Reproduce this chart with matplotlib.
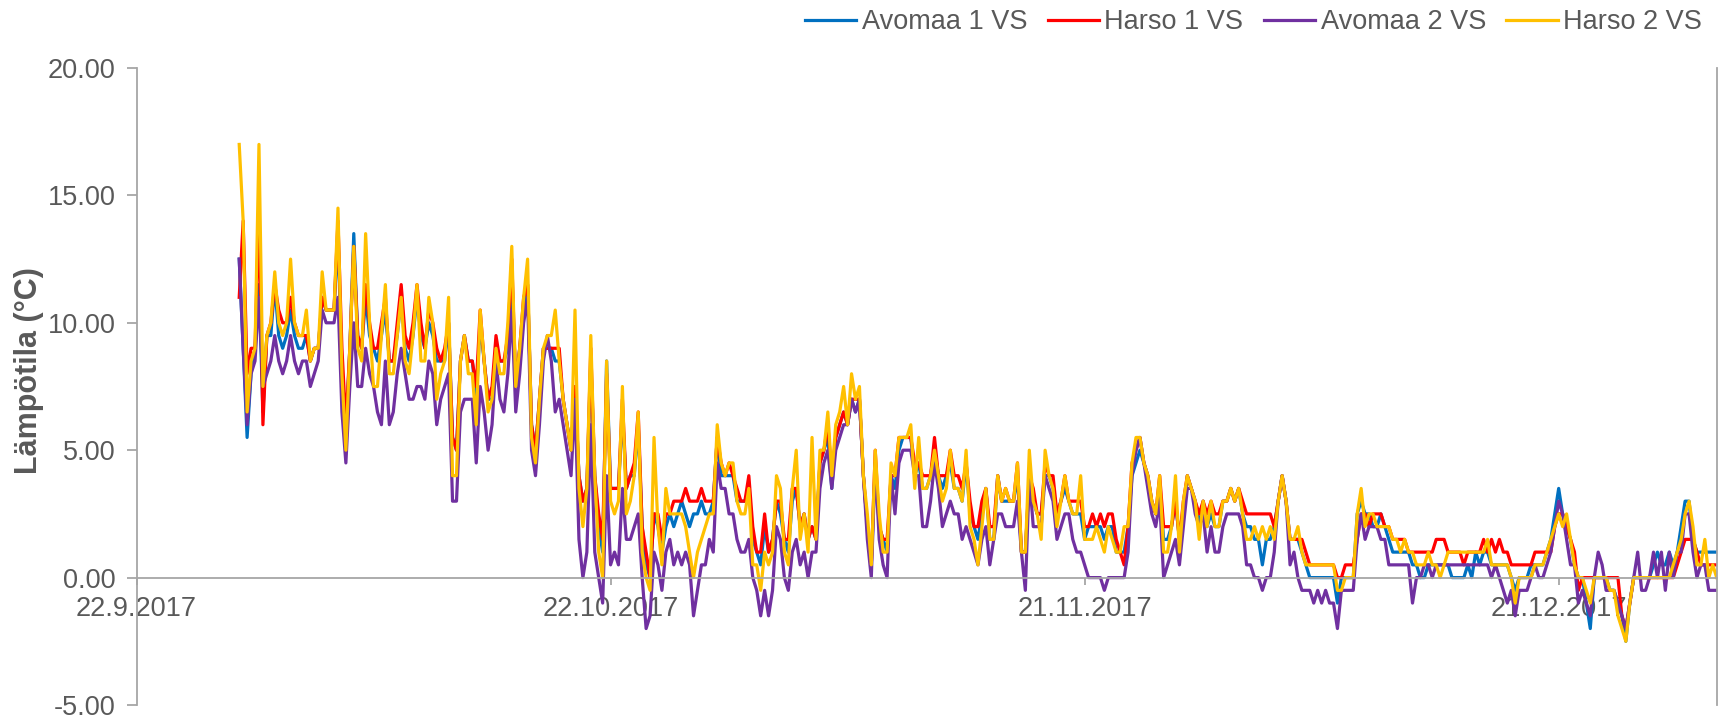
import matplotlib
matplotlib.use("Agg")
import matplotlib.pyplot as plt
import pandas as pd

plt.rcParams['font.family'] = ['Liberation Sans', 'DejaVu Sans']
plt.rcParams['axes.unicode_minus'] = False

# ---- data (6-hourly readings, °C) ----
series_names = ["Avomaa 1 VS", "Harso 1 VS", "Avomaa 2 VS", "Harso 2 VS"]
series_colors = ["#0070C0", "#FF0000", "#7030A0", "#FFC000"]
first_reading = "2017-09-28 12:00"
reading_freq = "6h"
tick_dates = ["2017-09-22", "2017-10-22", "2017-11-21", "2017-12-21"]
tick_labels = ["22.9.2017", "22.10.2017", "21.11.2017", "21.12.2017"]
x_range = ["2017-09-22", "2017-12-31"]
y_ticks = [-5, 0, 5, 10, 15, 20]

avomaa1 = [
    12.5, 9,
    5.5, 8, 9, 11.5,   6.5, 9.5, 9.5, 11.5,   9.5, 9, 9.5, 10.5,   9.5, 9, 9, 9.5,
    8.5, 9, 9, 11,   10.5, 10.5, 10.5, 13.5,   8, 5.5, 9, 13.5,   9.5, 9, 11, 9.5,
    9, 8.5, 9.5, 10.5,   8.5, 8.5, 9.5, 11,   9, 8.5, 9.5, 11,   9.5, 9, 10, 9.5,
    8.5, 8.5, 8.5, 10,   5.5, 5, 8.5, 9.5,   8.5, 8.5, 7, 10,   8.5, 7, 7, 9,
    8.5, 8.5, 9, 12,   7.5, 9, 10.5, 11.5,   6, 5, 7, 9,   9, 9, 8.5, 8.5,
    7, 6, 5, 7.5,   4, 3, 3.5, 8.5,   4, 2, 1, 8.5,   3.5, 3.5, 3.5, 6.5,
    3.5, 4, 4, 6,   2, 0.5, 0, 2.5,   2, 1, 2, 2.5,   2, 2.5, 3, 2.5,
    2, 2.5, 2.5, 3,   2.5, 2.5, 3, 5.5,   4, 4, 4, 4,   3, 3, 3, 3.5,
    1.5, 1, 0.5, 2,   1, 1.5, 3, 2.5,   1.5, 1, 3, 3.5,   2, 2.5, 1.5, 2,
    1.5, 4.5, 5, 5.5,   3.5, 5.5, 6, 6.5,   6, 7, 6.5, 7,   4, 2, 0.5, 4.5,
    2, 1.5, 1, 4,   3.5, 5, 5.5, 5.5,   5.5, 4, 4.5, 3.5,   3.5, 4, 5, 4,
    3.5, 4, 4.5, 3.5,   3.5, 3, 4.5, 2.5,   2, 1.5, 2.5, 3.5,   1.5, 1.5, 4, 3,
    3, 3, 3, 4,   1, 1, 4, 3,   2.5, 2.5, 4, 4,   3.5, 2.5, 3, 3.5,
    3, 2.5, 2.5, 2.5,   1.5, 2, 2, 2,   2, 1.5, 2, 2,   1, 1, 1, 2,
    4, 4.5, 5, 4.5,   4, 3, 2.5, 3.5,   1.5, 1.5, 2, 3,   1.5, 2.5, 4, 3.5,
    3, 2, 3, 2,   2.5, 2, 2, 3,   3, 3.5, 3, 3.5,   2.5, 2, 2, 1.5,
    1.5, 0.5, 1.5, 1.5,   2, 3, 4, 3,   1.5, 1.5, 1.5, 1,   0.5, 0, 0, 0,
    0, 0, 0, 0,   -1, 0, 0, 0,   0, 2.5, 3, 2.5,   2.5, 2, 2, 2.5,
    2, 1.5, 1, 1,   1, 1, 1, 0.5,   0.5, 0, 0, 0.5,   0.5, 0.5, 0.5, 0.5,
    0.5, 0, 0, 0,   0, 0.5, 0, 1,   0.5, 1, 1, 0.5,   0.5, 0.5, 0.5, 0.5,
    0, -0.5, 0, 0,   0, 0.5, 0.5, 0.5,   0.5, 1, 1.5, 2.5,   3.5, 2.5, 2, 1.5,
    0.5, 0, 0, -1,   -2, 0, 0, 0,   0, -0.5, -0.5, -1,   -1.5, -2.5, -1, 0,
    0, 0, 0, 0,   0.5, 1, 0.5, 0.5,   1, 0.5, 1, 2,   3, 3, 1.5, 1,
    1, 1, 1, 1,
    1,
]

harso1 = [
    11, 14,
    8, 9, 9, 14.5,   6, 9.5, 10, 11.5,   10.5, 10, 10, 11,   10, 9.5, 9.5, 9.5,
    8.5, 9, 9, 11,   10.5, 10.5, 10.5, 14,   9, 6, 9, 13,   9.5, 9, 11.5, 10,
    9, 9, 10, 11,   8.5, 8.5, 10, 11.5,   9.5, 9, 10, 11.5,   10, 9, 10.5, 10,
    9, 8.5, 9, 10,   5.5, 5, 8.5, 9.5,   8.5, 8.5, 7.5, 10.5,   8.5, 7, 7.5, 9.5,
    8.5, 8.5, 9.5, 12.5,   7.5, 9, 11, 11.5,   6, 5, 7, 9,   9, 9, 9, 9,
    7, 6, 5, 7.5,   4, 3, 3.5, 9,   4, 2.5, 1.5, 8,   3.5, 3.5, 3.5, 7,
    3.5, 4, 4.5, 6.5,   2, 1, 0, 2.5,   2.5, 1.5, 2.5, 2.5,   3, 3, 3, 3.5,
    3, 3, 3, 3.5,   3, 3, 3, 5.5,   4.5, 4, 4.5, 4,   3.5, 3, 3, 4,
    2, 1, 1, 2.5,   1, 1.5, 3, 3,   1.5, 1.5, 3.5, 3.5,   2, 2.5, 1.5, 2,
    1.5, 4.5, 5, 6,   4, 5.5, 6, 6.5,   6, 7, 7, 7,   4, 2, 0.5, 5,
    2, 1.5, 1.5, 4,   4, 5.5, 5.5, 5.5,   5.5, 4.5, 4.5, 4,   4, 4, 5.5, 4,
    4, 4, 5, 4,   4, 3.5, 4.5, 3,   2, 2, 3, 3.5,   2, 2, 4, 3,
    3.5, 3, 3, 4.5,   1, 1, 4, 3.5,   2.5, 2.5, 4.5, 4,   4, 2.5, 3, 4,
    3, 3, 3, 3,   2, 2, 2.5, 2,   2.5, 2, 2.5, 2.5,   1.5, 1, 0.5, 2,
    4.5, 5, 5.5, 4.5,   4, 3, 2.5, 4,   2, 2, 2, 3,   1.5, 3, 4, 3.5,
    3, 2.5, 3, 2.5,   3, 2.5, 2.5, 3,   3, 3.5, 3, 3.5,   3, 2.5, 2.5, 2.5,
    2.5, 2.5, 2.5, 2.5,   2, 3, 4, 3,   1.5, 1.5, 1.5, 1.5,   1, 0.5, 0.5, 0.5,
    0.5, 0.5, 0.5, 0.5,   0, 0, 0.5, 0.5,   0.5, 1.5, 2.5, 2.5,   2, 2.5, 2.5, 2.5,
    2, 2, 1.5, 1.5,   1.5, 1.5, 1, 1,   1, 1, 1, 1,   1, 1.5, 1.5, 1.5,
    1, 1, 1, 1,   0.5, 1, 1, 1,   1, 1.5, 1, 1.5,   1, 1.5, 1, 1,
    0.5, 0.5, 0.5, 0.5,   0.5, 0.5, 1, 1,   1, 1, 1, 2,   2.5, 2.5, 2, 1.5,
    1, -0.5, 0, 0,   0, 0, 0, 0,   0, 0, 0, 0,   -1.5, -2, -1, 0,
    0, 0, 0, 0,   0, 0, 0, 0,   0, 0, 0.5, 1,   1.5, 1.5, 1.5, 1,
    0.5, 0.5, 0.5, 0.5,
    0.5,
]

avomaa2 = [
    12.5, 9,
    6, 8, 8.5, 11,   7.5, 8, 8.5, 9.5,   8.5, 8, 8.5, 9.5,   8.5, 8, 8.5, 8.5,
    7.5, 8, 8.5, 10.5,   10, 10, 10, 11,   6.5, 4.5, 7.5, 10,   7.5, 7.5, 9, 8,
    7.5, 6.5, 6, 8.5,   6, 6.5, 8, 9,   8, 7, 7, 7.5,   7.5, 7, 8.5, 8,
    6, 7, 7.5, 8,   3, 3, 6.5, 7,   7, 7, 4.5, 7.5,   6.5, 5, 6, 8.5,
    7, 6.5, 8, 10.5,   6.5, 8, 10, 11,   5, 4, 6, 8.5,   9.5, 8.5, 6.5, 7,
    6, 5, 4, 7,   1.5, 0, 1, 6,   1, 0, -1, 4,   0.5, 1, 0.5, 3.5,
    1.5, 1.5, 2, 2.5,   0, -2, -1.5, 1,   0.5, -0.5, 1, 1.5,   0.5, 1, 0.5, 1,
    0.5, -1.5, -0.5, 0.5,   0.5, 1.5, 1, 4.5,   3.5, 3.5, 2.5, 2.5,   1.5, 1, 1, 1.5,
    0, -0.5, -1.5, -0.5,   -1.5, -0.5, 2, 1.5,   0, -0.5, 1, 1.5,   0.5, 1, 0, 1,
    1, 3.5, 4.5, 5,   3.5, 5, 5.5, 6,   6, 7, 6.5, 7,   4, 1.5, 0, 4.5,
    1.5, 0.5, 0, 4,   2.5, 4.5, 5, 5,   5, 4, 4, 2,   2, 3, 4.5, 3.5,
    2, 2.5, 3, 2.5,   2.5, 1.5, 2, 1.5,   1, 0.5, 1.5, 2,   0.5, 1.5, 2.5, 2.5,
    2, 2, 2, 3,   1, -0.5, 4, 2,   2, 2, 4, 3.5,   3, 1.5, 2, 2.5,
    2.5, 1.5, 1, 1,   0.5, 0, 0, 0,   0, -0.5, 0, 0,   0, 0, 0, 1,
    4, 5, 5.5, 4.5,   3.5, 2.5, 2, 3,   0, 0.5, 1, 1.5,   0.5, 2, 3.5, 3.5,
    2.5, 2, 2.5, 1,   2, 1, 1, 2,   2.5, 2.5, 2.5, 2.5,   2, 0.5, 0.5, 0,
    0, -0.5, 0, 0,   1, 3, 4, 3,   0.5, 1, 0, -0.5,   -0.5, -0.5, -1, -0.5,
    -1, -0.5, -1, -1,   -2, -0.5, -0.5, -0.5,   -0.5, 1.5, 2.5, 1.5,   2, 2, 2, 1.5,
    1.5, 0.5, 0.5, 0.5,   0.5, 0.5, 0.5, -1,   0, 0, 0.5, 0.5,   0, 0.5, 0.5, 0.5,
    0.5, 0.5, 0.5, 0.5,   0.5, 0.5, 0.5, 0.5,   0.5, 0.5, 0.5, 0,   0.5, 0, -0.5, -1,
    -0.5, -1.5, -0.5, -0.5,   -0.5, 0, 0.5, 0,   0, 0.5, 1, 2,   3, 2.5, 1.5, 0.5,
    0.5, -1, -0.5, -1,   -1.5, 0, 1, 0.5,   -0.5, -0.5, -0.5, -1,   -1.5, -2, -1, 0,
    1, -0.5, -0.5, 0,   1, 0, 1, -0.5,   1, 0, 1, 1,   2.5, 2.5, 1, 0,
    0.5, 0.5, -0.5, -0.5,
    -0.5,
]

harso2 = [
    17, 14,
    6.5, 8.5, 9, 17,   7.5, 9.5, 10, 12,   10, 9.5, 10, 12.5,   10, 9.5, 9.5, 10.5,
    8.5, 9, 9, 12,   10.5, 10.5, 10.5, 14.5,   8, 5, 9, 13,   9, 8.5, 13.5, 10,
    7.5, 7.5, 9.5, 11.5,   8, 8, 9.5, 11,   8.5, 8, 9.5, 11.5,   8.5, 8.5, 11, 10,
    7, 8, 8.5, 11,   4, 4, 8.5, 9.5,   8, 8, 6, 10.5,   8.5, 6.5, 7, 9,
    8, 8, 10, 13,   7.5, 9, 11, 12.5,   5.5, 4.5, 7, 9,   9.5, 9.5, 10.5, 8.5,
    7, 6, 5, 10.5,   3.5, 2, 3.5, 9.5,   4, 1, 0, 8.5,   3, 2.5, 3, 7.5,
    2.5, 3, 4, 6.5,   1, 0, -0.5, 5.5,   2, 0.5, 3.5, 2.5,   2.5, 2.5, 2.5, 2,
    1, 0, 1, 1.5,   2, 2.5, 2.5, 6,   4.5, 4, 4.5, 4.5,   3, 2.5, 2.5, 3.5,
    0.5, 0.5, -0.5, 1,   0.5, 1, 4, 3.5,   1, 0.5, 3.5, 5,   1.5, 2.5, 1, 5.5,
    1.5, 5, 5, 6.5,   4, 6, 6.5, 7.5,   6, 8, 7, 7.5,   4, 2.5, 0.5, 5,
    2.5, 1, 1, 4.5,   4, 5.5, 5.5, 5.5,   6, 3.5, 5.5, 3.5,   3.5, 4, 5, 4,
    3, 3.5, 5, 3.5,   3.5, 3, 5, 2,   1.5, 0.5, 2, 3.5,   1.5, 1.5, 4, 3,
    3.5, 3, 3, 4.5,   1, 1, 5, 3,   2.5, 1.5, 5, 4,   3.5, 2, 3, 4,
    3, 2.5, 2.5, 4,   1.5, 1.5, 1.5, 2,   1.5, 1, 2, 1.5,   1, 1, 2, 2,
    4.5, 5.5, 5.5, 4.5,   4, 3, 2.5, 4,   1, 1, 2, 4,   1, 3, 4, 3.5,
    3, 1.5, 3, 2,   3, 2, 2, 3,   3, 3.5, 3, 3.5,   2.5, 1.5, 1.5, 2,
    1.5, 2, 1.5, 2,   1.5, 3, 4, 3,   1.5, 1.5, 2, 1,   0.5, 0.5, 0.5, 0.5,
    0.5, 0.5, 0.5, 0.5,   -0.5, -0.5, 0, 0,   0, 2.5, 3.5, 2,   2.5, 2.5, 2, 2,
    2, 2, 1.5, 1.5,   1, 1.5, 1, 1,   0.5, 0.5, 0.5, 1,   0.5, 0.5, 0, 0.5,
    1, 1, 1, 1,   1, 1, 1, 1,   1, 1, 1.5, 0.5,   0.5, 0.5, 0.5, 0.5,
    0, -1, 0, 0,   0, 0, 0.5, 0.5,   0.5, 1, 1.5, 2,   2.5, 2, 2.5, 1.5,
    0.5, 0, 0, -0.5,   -1, 0, 0, 0,   0, -0.5, -0.5, -1.5,   -2, -2.5, -1, 0,
    0, 0, 0, 0,   0, 0, 0, 0,   0, 0.5, 1, 1.5,   2.5, 3, 2, 0.5,
    0.5, 1.5, 0, 0.5,
    0,
]

series_values = [avomaa1, harso1, avomaa2, harso2]

# ---- figure ----
W, H = 1725, 718
fig = plt.figure(figsize=(W / 100, H / 100), dpi=100)
x0, x1, ytop, ybot = 136.5, 1716.7, 68, 705
ax = fig.add_axes([x0 / W, 1 - ybot / H, (x1 - x0) / W, (ybot - ytop) / H])

times = pd.date_range(first_reading, periods=len(avomaa1), freq=reading_freq)
lines = []
for name, vals, col in zip(series_names, series_values, series_colors):
    ln, = ax.plot(times, vals, color=col, lw=2.3, label=name, solid_joinstyle='round')
    lines.append(ln)

ax.set_xlim(pd.Timestamp(x_range[0]), pd.Timestamp(x_range[1]))
ax.set_ylim(-5, 20)

axis_col = "#A6A6A6"
text_col = "#595959"
fs = 19.5

ax.spines["top"].set_visible(False)
ax.spines["right"].set_color(axis_col)
ax.spines["right"].set_linewidth(1.3)
ax.spines["left"].set_color(axis_col)
ax.spines["left"].set_linewidth(1.3)
ax.spines["bottom"].set_position(("data", 0))
ax.spines["bottom"].set_color(axis_col)
ax.spines["bottom"].set_linewidth(1.3)

ax.set_yticks(y_ticks)
ax.set_yticklabels([f"{v:.2f}" for v in y_ticks])
ax.tick_params(axis="y", direction="out", length=7, width=1.3, color=axis_col,
               labelcolor=text_col, labelsize=fs, pad=8)

ax.set_xticks([pd.Timestamp(d) for d in tick_dates])
ax.set_xticklabels(tick_labels)
ax.tick_params(axis="x", direction="out", length=5, width=1.3, color=axis_col,
               labelcolor=text_col, labelsize=fs, pad=8)

ax.set_ylabel("Lämpötila (°C)", fontsize=22, fontweight="bold", color=text_col)
ax.yaxis.set_label_coords((44 - x0) / (x1 - x0), (ybot - 371) / (ybot - ytop))

leg = fig.legend(handles=lines, labels=series_names, loc="upper right",
                 bbox_to_anchor=(1702 / W, 1 - 9 / H), ncol=4, frameon=False,
                 fontsize=fs, handlelength=1.9, handletextpad=0.2,
                 columnspacing=0.75, borderaxespad=0, borderpad=0)
for t in leg.get_texts():
    t.set_color(text_col)

fig.savefig("out.png", dpi=100)
